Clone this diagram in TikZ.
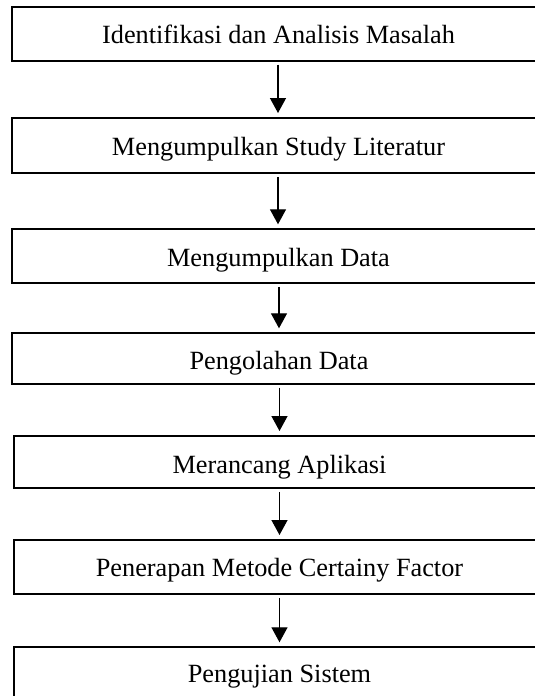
\documentclass[tikz,border=0pt]{standalone}
\usepackage{fontspec}
\setmainfont{Liberation Serif}
\usetikzlibrary{arrows.meta}
\begin{document}
\begin{tikzpicture}[x=1pt,y=-1pt,
  stepbox/.style={draw=black,line width=2pt,rectangle,inner sep=0pt,minimum height=#1},
  steptext/.style={anchor=base,inner sep=0pt,font=\fontsize{26.3}{30}\selectfont},
  flow/.style={line width=1.3pt,-{Triangle[width=16pt,length=15pt]},shorten <=2.5pt,shorten >=4pt}]
\useasboundingbox (0,0) rectangle (535,696);
\begin{scope}
\clip (0,0) rectangle (535,696);
\node[stepbox=53.7, minimum width=532.6] (b1) at (278,34.15) {};
\node[stepbox=55.3, minimum width=532.6] (b2) at (278,145.65) {};
\node[stepbox=54, minimum width=533] (b3) at (278,256.3) {};
\node[stepbox=50.7, minimum width=534] (b4) at (279,358.65) {};
\node[stepbox=52.3, minimum width=531] (b5) at (279.5,462.15) {};
\node[stepbox=54.3, minimum width=531] (b6) at (279.5,567.15) {};
\node[stepbox=49.7, minimum width=531] (b7) at (279.5,672.15) {};
\end{scope}
\node[steptext] (t1) at (278.5,43.3) {Identifikasi dan Analisis Masalah};
\node[steptext] (t2) at (278.5,155) {Mengumpulkan Study Literatur};
\node[steptext] (t3) at (278.5,266.5) {Mengumpulkan Data};
\node[steptext] (t4) at (279,369) {Pengolahan Data};
\node[steptext] (t5) at (279.5,473) {Merancang Aplikasi};
\node[steptext] (t6) at (279.5,576.7) {Penerapan Metode Certainy Factor};
\node[steptext] (t7) at (279.5,682) {Pengujian Sistem};
\draw[flow] (b1.south -| b2.north) -- (b2.north);
\draw[flow] (b2.south -| b3.north) -- (b3.north);
\draw[flow] (b3.south -| b4.north) -- (b4.north);
\draw[flow] (b4.south -| b5.north) -- (b5.north);
\draw[flow] (b5.south -| b6.north) -- (b6.north);
\draw[flow] (b6.south -| b7.north) -- (b7.north);
\end{tikzpicture}
\end{document}
